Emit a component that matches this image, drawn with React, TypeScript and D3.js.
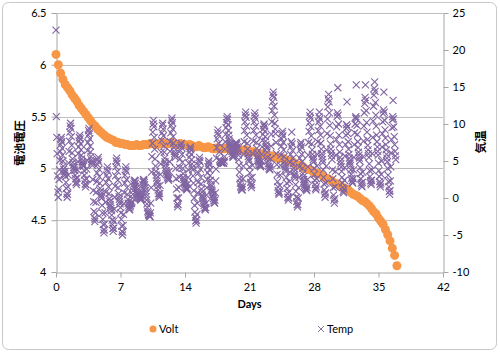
import React, { useRef, useEffect } from "react";
import * as d3 from "d3";

const W = 500;
const H = 352;

const dayTicks = [0, 7, 14, 21, 28, 35, 42];
const voltTicks = [4, 4.5, 5, 5.5, 6, 6.5];
const tempTicks = [-10, -5, 0, 5, 10, 15, 20, 25];

// battery voltage, one reading every 6 hours from day 0
const voltStep = 0.25;
const volt = [
  6.10, 6.00, 5.92, 5.86, 5.81, 5.78, 5.75, 5.71, 5.68, 5.65, 5.61, 5.58,
  5.55, 5.52, 5.49, 5.46, 5.43, 5.41, 5.38, 5.36, 5.34, 5.32, 5.30, 5.29,
  5.28, 5.27, 5.25, 5.25, 5.24, 5.24, 5.23, 5.23, 5.22, 5.22, 5.22, 5.23,
  5.22, 5.22, 5.23, 5.23, 5.23, 5.24, 5.24, 5.23, 5.23, 5.24, 5.25, 5.24,
  5.24, 5.24, 5.25, 5.24, 5.23, 5.23, 5.24, 5.23, 5.23, 5.22, 5.23, 5.22,
  5.21, 5.21, 5.22, 5.21, 5.20, 5.20, 5.21, 5.20, 5.19, 5.19, 5.20, 5.19,
  5.19, 5.19, 5.20, 5.19, 5.18, 5.18, 5.19, 5.18, 5.18, 5.17, 5.18, 5.17,
  5.16, 5.16, 5.16, 5.15, 5.14, 5.14, 5.14, 5.13, 5.12, 5.12, 5.12, 5.11,
  5.10, 5.10, 5.10, 5.09, 5.08, 5.07, 5.07, 5.06, 5.04, 5.03, 5.03, 5.02,
  5.00, 4.99, 4.99, 4.98, 4.96, 4.95, 4.95, 4.94, 4.92, 4.91, 4.90, 4.89,
  4.87, 4.86, 4.85, 4.84, 4.82, 4.81, 4.80, 4.79, 4.77, 4.75, 4.74, 4.73,
  4.71, 4.69, 4.68, 4.66, 4.64, 4.61, 4.58, 4.56, 4.52, 4.49, 4.46, 4.41,
  4.36, 4.30, 4.23, 4.16, 4.06,
];

// air temperature, hourly, one row per day
const tempHourly = [
  [22.7, 11.0, 8.2, 6.0, 3.0, 0.8, 0.1, 1.2, 2.5, 3.8, 5.1, 6.3, 7.2, 7.9, 8.2, 7.6, 6.7, 5.8, 5.0, 4.3, 3.9, 3.6, 3.3, 3.1],
  [3.6, 2.9, 2.1, 1.3, 0.6, 0.1, 0.5, 1.5, 3.1, 4.7, 6.3, 7.7, 8.9, 9.7, 10.1, 9.4, 8.3, 7.1, 6.1, 5.3, 4.8, 4.4, 4.1, 3.8],
  [4.1, 3.7, 3.1, 2.6, 2.1, 1.8, 2.1, 2.7, 3.8, 4.9, 6.0, 6.9, 7.7, 8.2, 8.5, 8.0, 7.3, 6.5, 5.8, 5.3, 4.9, 4.7, 4.5, 4.3],
  [4.3, 3.7, 3.1, 2.4, 1.9, 1.5, 1.8, 2.6, 3.9, 5.1, 6.4, 7.5, 8.5, 9.1, 9.4, 8.8, 8.0, 7.0, 6.2, 5.6, 5.2, 4.9, 4.7, 4.4],
  [2.5, 1.0, -0.5, -1.8, -2.7, -3.2, -2.9, -2.0, -0.6, 0.8, 2.2, 3.4, 4.5, 5.2, 5.5, 4.9, 3.9, 2.9, 2.0, 1.3, 0.9, 0.5, 0.3, 0.0],
  [-1.0, -2.0, -2.9, -3.6, -4.3, -4.7, -4.3, -3.5, -2.0, -0.6, 0.8, 2.1, 3.1, 3.8, 4.2, 3.6, 2.6, 1.5, 0.6, -0.1, -0.5, -0.9, -1.1, -1.4],
  [-1.7, -2.3, -3.0, -3.6, -4.1, -4.5, -4.1, -3.1, -1.5, 0.1, 1.6, 3.0, 4.2, 5.0, 5.4, 4.7, 3.6, 2.4, 1.4, 0.6, 0.2, -0.2, -0.5, -0.8],
  [-1.3, -2.0, -2.9, -3.8, -4.5, -5.0, -4.6, -3.7, -2.2, -0.8, 0.7, 2.0, 3.1, 3.8, 4.2, 3.6, 2.5, 1.4, 0.5, -0.2, -0.7, -1.0, -1.3, -1.6],
  [-1.5, -1.2, -1.0, -0.8, -0.7, -0.7, -0.5, 0.0, 0.5, 1.0, 1.5, 1.9, 2.2, 2.4, 2.3, 2.0, 1.6, 1.3, 1.0, 0.8, 0.6, 0.5, 0.4, 0.3],
  [0.2, 0.1, 0.0, -0.1, -0.2, -0.3, -0.1, 0.3, 0.8, 1.3, 1.8, 2.2, 2.5, 2.4, 2.1, 1.8, 1.4, 1.0, 0.6, 0.2, -0.3, -0.8, -1.3, -1.8],
  [-2.0, -2.2, -2.3, -2.4, -2.5, -2.5, -2.0, -0.7, 1.4, 3.5, 5.6, 7.4, 8.9, 10.0, 10.5, 9.6, 8.2, 6.6, 5.3, 4.3, 3.6, 3.1, 2.7, 2.3],
  [2.0, 1.6, 1.1, 0.6, 0.3, 0.1, 0.6, 1.7, 3.2, 4.6, 6.2, 7.8, 8.8, 9.8, 10.1, 9.3, 8.4, 7.0, 6.2, 5.4, 4.9, 4.5, 4.1, 3.7],
  [3.5, 3.2, 3.0, 2.8, 2.6, 2.4, 2.7, 3.6, 4.9, 6.3, 7.6, 8.8, 9.8, 10.5, 10.8, 10.2, 9.3, 8.3, 7.4, 6.8, 6.3, 6.0, 5.8, 5.5],
  [4.0, 2.6, 1.2, 0.0, -0.8, -1.2, -0.9, 0.0, 1.4, 2.8, 4.1, 5.3, 6.4, 7.1, 7.4, 6.8, 5.9, 4.8, 4.0, 3.3, 2.8, 2.5, 2.2, 2.0],
  [1.8, 1.6, 1.4, 1.3, 1.2, 1.1, 1.3, 1.9, 2.8, 3.8, 4.7, 5.5, 6.2, 6.7, 6.9, 6.5, 5.9, 5.2, 4.6, 4.1, 3.8, 3.0, 2.0, 1.0],
  [0.0, -1.0, -1.9, -2.6, -3.1, -3.4, -3.0, -2.2, -0.7, 0.7, 2.1, 3.4, 4.4, 5.1, 5.5, 4.9, 3.9, 2.8, 1.9, 1.2, 0.8, 0.4, 0.2, -0.1],
  [-0.4, -0.7, -1.0, -1.3, -1.5, -1.6, -1.3, -0.7, 0.4, 1.4, 2.5, 3.4, 4.2, 4.7, 5.0, 4.5, 3.8, 3.0, 2.4, 1.8, 1.5, 1.2, 1.0, 0.8],
  [0.5, 0.2, -0.1, -0.4, -0.6, -0.7, -0.3, 0.7, 2.3, 3.9, 5.4, 6.8, 8.0, 8.8, 9.2, 8.5, 7.4, 6.2, 5.2, 5.0, 4.9, 4.8, 4.8, 4.7],
  [4.9, 4.8, 4.8, 4.7, 4.7, 4.7, 5.0, 5.6, 6.6, 7.6, 8.6, 9.5, 10.2, 10.7, 11.0, 10.6, 9.9, 9.1, 8.5, 8.0, 7.7, 7.4, 7.2, 7.0],
  [6.8, 6.6, 6.3, 6.0, 5.7, 5.5, 5.6, 5.8, 6.1, 6.4, 6.8, 7.1, 7.3, 7.5, 7.4, 7.2, 6.9, 6.6, 6.2, 5.8, 5.2, 4.4, 3.5, 2.6],
  [2.0, 1.6, 1.4, 1.2, 1.1, 1.1, 1.5, 2.6, 4.3, 5.9, 7.6, 9.1, 10.3, 11.2, 11.6, 10.9, 9.7, 8.5, 7.4, 6.6, 6.0, 5.6, 5.3, 5.0],
  [4.2, 3.4, 2.7, 2.1, 1.7, 1.4, 1.8, 2.8, 4.4, 6.0, 7.7, 9.1, 10.3, 11.1, 11.5, 10.8, 9.7, 8.5, 7.5, 6.7, 6.1, 5.7, 5.4, 5.1],
  [4.9, 4.7, 4.5, 4.4, 4.3, 4.2, 4.4, 5.0, 5.9, 6.9, 7.8, 8.6, 9.3, 9.8, 10.0, 9.6, 9.0, 8.3, 7.7, 7.2, 6.9, 6.7, 6.2, 5.5],
  [5.0, 4.6, 4.3, 4.0, 3.9, 3.8, 4.2, 5.3, 7.0, 8.6, 10.3, 11.8, 13.0, 13.9, 14.3, 13.6, 12.4, 11.2, 10.1, 9.3, 8.7, 7.5, 6.0, 4.5],
  [3.2, 2.2, 1.5, 1.0, 0.7, 0.5, 0.8, 1.7, 3.1, 4.4, 5.8, 7.0, 8.0, 8.7, 9.0, 8.4, 7.5, 6.5, 5.6, 4.9, 4.5, 4.2, 3.9, 3.6],
  [2.8, 2.0, 1.3, 0.6, 0.1, -0.3, 0.0, 0.8, 2.2, 3.5, 4.8, 5.9, 6.9, 7.6, 8.9, 7.3, 6.4, 5.4, 4.6, 4.0, 3.6, 3.2, 3.0, 2.7],
  [1.8, 0.9, 0.1, -0.5, -0.9, -1.2, -0.9, 0.0, 1.4, 2.8, 4.2, 5.4, 6.5, 7.2, 7.5, 6.9, 5.9, 4.9, 4.0, 3.3, 2.9, 2.5, 2.2, 1.9],
  [1.7, 1.5, 1.3, 1.2, 1.1, 1.0, 1.4, 2.5, 4.2, 5.8, 7.5, 9.0, 10.2, 11.1, 11.6, 10.8, 9.6, 8.4, 7.3, 6.5, 5.9, 5.5, 5.2, 4.9],
  [4.0, 3.2, 2.4, 1.8, 1.3, 1.1, 1.5, 2.6, 4.3, 5.9, 7.6, 9.1, 10.3, 11.0, 11.6, 10.7, 9.7, 8.5, 7.4, 6.6, 6.0, 5.6, 5.2, 4.8],
  [3.8, 2.8, 1.9, 1.1, 0.5, 0.1, 0.7, 2.0, 4.3, 6.5, 8.7, 10.7, 12.3, 13.4, 14.0, 13.0, 11.5, 9.8, 8.4, 7.3, 6.6, 6.1, 5.7, 5.2],
  [3.8, 2.6, 1.4, 0.4, -0.3, -0.7, -0.1, 1.5, 3.6, 5.8, 7.9, 9.6, 11.0, 11.5, 14.9, 11.2, 10.0, 8.5, 7.2, 6.2, 5.5, 5.0, 4.6, 4.2],
  [3.6, 2.8, 2.0, 1.4, 0.9, 0.7, 1.2, 2.4, 4.1, 5.7, 7.2, 8.5, 9.4, 9.9, 13.0, 9.6, 8.7, 7.6, 6.6, 5.9, 5.4, 5.0, 4.7, 4.4],
  [3.8, 3.2, 2.7, 2.3, 2.1, 2.0, 2.6, 3.8, 5.5, 7.2, 8.8, 10.0, 10.8, 11.0, 15.3, 10.7, 9.8, 8.6, 7.6, 6.8, 6.2, 5.8, 5.4, 5.0],
  [4.1, 3.3, 2.6, 2.0, 1.7, 1.5, 2.1, 3.5, 5.6, 7.7, 9.7, 11.5, 12.8, 13.6, 15.3, 13.2, 11.8, 10.2, 8.9, 7.9, 7.1, 6.5, 6.0, 5.5],
  [4.6, 3.7, 2.9, 2.3, 2.0, 1.8, 2.4, 3.8, 6.0, 8.2, 10.4, 12.4, 13.9, 14.8, 15.7, 14.4, 12.9, 11.2, 9.7, 8.5, 7.6, 6.9, 6.3, 5.8],
  [4.7, 3.7, 2.9, 2.2, 1.8, 1.5, 2.0, 3.2, 5.0, 6.9, 8.7, 10.3, 11.4, 11.9, 14.3, 11.6, 10.5, 9.2, 8.1, 7.2, 6.5, 5.9, 5.4, 4.9],
  [4.0, 3.1, 2.2, 1.5, 0.9, 0.5, 1.0, 2.3, 4.2, 6.1, 7.9, 9.5, 10.6, 11.0, 13.2, 10.7, 9.6, 8.3, 7.2, 6.3, 5.7, 5.2],
];

const ORANGE = "#F79646";
const PURPLE = "#8064A2";
const GRID = "#bfbfbf";
const AXIS = "#a6a6a6";
const FONT = "Lato, 'Noto Sans CJK JP', sans-serif";
const CJK = "'Noto Sans CJK JP', sans-serif";
const crossPath = "M-3.5,-3.5L3.5,3.5M-3.5,3.5L3.5,-3.5";
const legendCross = "M-3,-3L3,3M-3,3L3,-3";

const VoltTempChart = () => {
  const ref = useRef(null);

  useEffect(() => {
    const svg = d3.select(ref.current);
    svg.selectAll("*").remove();

    const left = 56, right = 443, top = 13, bottom = 272;

    const x = d3.scaleLinear([0, 42], [left, right]);
    const yVolt = d3.scaleLinear([4, 6.5], [bottom, top]);
    const yTemp = d3.scaleLinear([-10, 25], [bottom, top]);

    // outer frame
    svg.append("rect")
      .attr("x", 2.5).attr("y", 2.5)
      .attr("width", 494).attr("height", 347)
      .attr("rx", 6)
      .attr("fill", "#fff")
      .attr("stroke", "#c8c8c8");

    // horizontal grid lines from the voltage axis
    svg.append("g").selectAll("line")
      .data(voltTicks.filter(v => v > 4))
      .join("line")
      .attr("x1", left).attr("x2", right)
      .attr("y1", d => Math.round(yVolt(d)) + 0.5)
      .attr("y2", d => Math.round(yVolt(d)) + 0.5)
      .attr("stroke", GRID);

    const styleAxis = g => {
      g.attr("font-family", FONT).attr("font-size", 11);
      g.select(".domain").attr("stroke", AXIS);
      g.selectAll(".tick line").attr("stroke", AXIS);
      g.selectAll(".tick text").attr("fill", "#000");
    };

    svg.append("g")
      .attr("transform", `translate(${left + 0.5},0)`)
      .call(d3.axisLeft(yVolt).tickValues(voltTicks).tickSize(5).tickSizeOuter(0).tickPadding(5).tickFormat(d => String(d)))
      .call(styleAxis);

    svg.append("g")
      .attr("transform", `translate(0,${bottom + 0.5})`)
      .call(d3.axisBottom(x).tickValues(dayTicks).tickSize(5).tickSizeOuter(0).tickPadding(6).tickFormat(d => String(d)))
      .call(styleAxis);

    svg.append("g")
      .attr("transform", `translate(${right + 0.5},0)`)
      .call(d3.axisRight(yTemp).tickValues(tempTicks).tickSize(5).tickSizeOuter(0).tickPadding(4).tickFormat(d => String(d)))
      .call(styleAxis);

    // volt series
    svg.append("g").selectAll("circle")
      .data(volt)
      .join("circle")
      .attr("cx", (d, i) => x(i * voltStep))
      .attr("cy", d => yVolt(d))
      .attr("r", 4.5)
      .attr("fill", ORANGE);

    // temp series, on the secondary axis, drawn on top
    const temps = tempHourly.flatMap((day, d) => day.map((v, h) => ({ t: d + h / 24, v })));
    svg.append("g").selectAll("path")
      .data(temps)
      .join("path")
      .attr("transform", d => `translate(${x(d.t)},${yTemp(d.v)})`)
      .attr("d", crossPath)
      .attr("fill", "none")
      .attr("stroke", PURPLE)
      .attr("stroke-width", 1.1);

    // axis titles
    svg.append("text")
      .attr("x", (left + right) / 2).attr("y", 308)
      .attr("text-anchor", "middle")
      .attr("font-family", FONT).attr("font-size", 11).attr("font-weight", "bold")
      .text("Days");

    svg.append("text")
      .attr("transform", "translate(23.5,143) rotate(-90)")
      .attr("text-anchor", "middle")
      .attr("font-family", CJK).attr("font-size", 11.5).attr("font-weight", "bold")
      .text("電池電圧");

    svg.append("text")
      .attr("transform", "translate(485,142) rotate(-90)")
      .attr("text-anchor", "middle")
      .attr("font-family", CJK).attr("font-size", 11.5).attr("font-weight", "bold")
      .text("気温");

    // legend
    const legend = svg.append("g").attr("font-family", FONT).attr("font-size", 11);
    legend.append("circle").attr("cx", 153).attr("cy", 329).attr("r", 3.5).attr("fill", ORANGE);
    legend.append("text").attr("x", 159).attr("y", 333).text("Volt");
    legend.append("path").attr("transform", "translate(321,329)").attr("d", legendCross)
      .attr("fill", "none").attr("stroke", PURPLE).attr("stroke-width", 0.9);
    legend.append("text").attr("x", 327).attr("y", 333).text("Temp");
  }, []);

  return <svg ref={ref} width={W} height={H} style={{ display: "block" }} />;
};

export default function App() {
  return (
    <div style={{ position: "absolute", left: 0, top: 0, width: W, height: H, background: "#fff" }}>
      <VoltTempChart />
    </div>
  );
}
